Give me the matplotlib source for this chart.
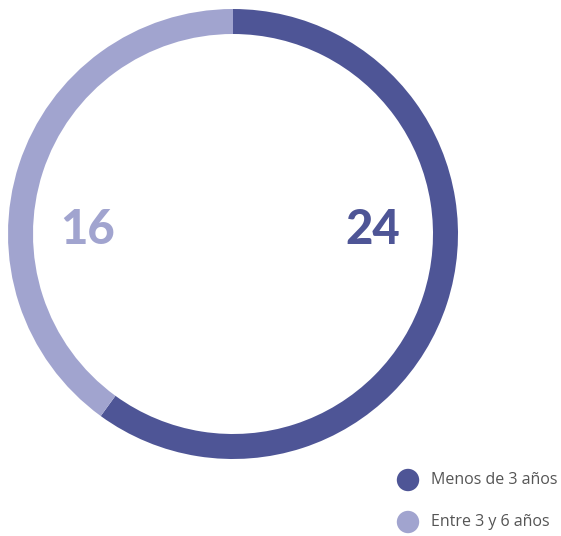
import matplotlib
matplotlib.use("Agg")
import matplotlib.pyplot as plt

# years of seniority breakdown
categories = ["Menos de 3 años", "Entre 3 y 6 años"]
values = [24, 16]
colors = ["#4e5596", "#a1a4cf"]

W, H = 561, 536
fig = plt.figure(figsize=(W / 100, H / 100), dpi=100)
ax = fig.add_axes([0, 0, 1, 1])

# ring drawn in pixel coordinates (y measured from the bottom)
cx, cy, r = 233, H - 234, 225
ax.pie(values, colors=colors, startangle=90, counterclock=False,
       center=(cx, cy), radius=r, frame=True,
       wedgeprops=dict(width=25, edgecolor="none"))

ax.set_xlim(0, W)
ax.set_ylim(0, H)
ax.set_aspect("equal")
ax.axis("off")

# value labels inside the ring
ax.text(373, H - 230, str(values[0]), color=colors[0], fontsize=34,
        fontweight="black", family="Lato", ha="center", va="center")
ax.text(88, H - 230, str(values[1]), color=colors[1], fontsize=34,
        fontweight="black", family="Lato", ha="center", va="center")

# legend
for i, (lab, col) in enumerate(zip(categories, colors)):
    y = H - (480 + 42 * i)
    ax.scatter([408], [y], s=260, color=col, edgecolors="none")
    ax.text(431, y, lab, color="#555555", fontsize=11.5,
            family="Open Sans", ha="left", va="center")

fig.savefig("out.png", dpi=100)
